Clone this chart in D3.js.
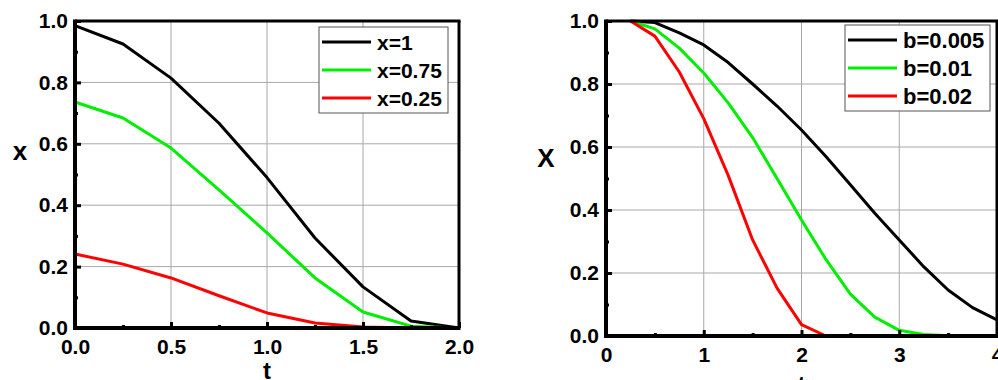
<!DOCTYPE html>
<html>
<head>
<meta charset="utf-8">
<script src="https://cdn.jsdelivr.net/npm/d3@7"></script>
<style>
  body { margin: 0; background: #fff; }
  text { font-family: Arial, "Liberation Sans", sans-serif; font-weight: bold; }
</style>
</head>
<body>
<div id="chart"></div>
<script>
// left panel data (t, x for three starting values)
var leftT = [0, 0.25, 0.5, 0.75, 1.0, 1.25, 1.5, 1.75, 2.0];
var leftX1 = [0.985, 0.925, 0.814, 0.667, 0.49, 0.293, 0.134, 0.023, 0];
var leftX075 = [0.736, 0.684, 0.586, 0.45, 0.31, 0.163, 0.052, 0.006, 0];
var leftX025 = [0.241, 0.208, 0.163, 0.105, 0.049, 0.016, 0.003, 0, 0];
var leftNames = ["x=1", "x=0.75", "x=0.25"];
var leftXTicks = [0, 0.5, 1.0, 1.5, 2.0];
var leftYTicks = [0, 0.2, 0.4, 0.6, 0.8, 1.0];

// right panel data (t, X for three b values)
var rightT = [0.25, 0.5, 0.75, 1.0, 1.25, 1.5, 1.75, 2.0, 2.25, 2.5, 2.75, 3.0, 3.25, 3.5, 3.75, 4.0];
var rightB005 = [1.0, 0.995, 0.962, 0.924, 0.868, 0.80, 0.73, 0.654, 0.57, 0.48, 0.39, 0.305, 0.22, 0.146, 0.09, 0.051];
var rightB01 = [1.0, 0.975, 0.914, 0.835, 0.74, 0.63, 0.50, 0.368, 0.243, 0.133, 0.06, 0.018, 0.005, 0.001, 0, 0];
var rightB02 = [1.0, 0.952, 0.838, 0.69, 0.51, 0.305, 0.152, 0.036, 0, 0, 0, 0, 0, 0, 0, 0];
var rightNames = ["b=0.005", "b=0.01", "b=0.02"];
var rightXTicks = [0, 1, 2, 3, 4];
var rightYTicks = [0, 0.2, 0.4, 0.6, 0.8, 1.0];

var colors = ["#000000", "#00ee00", "#ff0000"];

var W = 998, H = 380;
var svg = d3.select("#chart").append("svg")
    .attr("width", W)
    .attr("height", H);

function drawPanel(p) {
    var x = d3.scaleLinear().domain(p.xDomain).range([p.left, p.right]);
    var y = d3.scaleLinear().domain([0, 1]).range([p.bottom, p.top]);
    var g = svg.append("g");

    // grid
    g.selectAll(".gx").data(p.xTicks.slice(1, -1)).enter().append("line")
        .attr("x1", d => x(d)).attr("x2", d => x(d))
        .attr("y1", p.top).attr("y2", p.bottom)
        .attr("stroke", "#a8a8a8").attr("stroke-width", 1);
    g.selectAll(".gy").data(p.yTicks.slice(1, -1)).enter().append("line")
        .attr("x1", p.left).attr("x2", p.right)
        .attr("y1", d => y(d)).attr("y2", d => y(d))
        .attr("stroke", "#a8a8a8").attr("stroke-width", 1);

    // lines
    var line = d3.line().x(d => x(d[0])).y(d => y(d[1]));
    p.series.forEach(function(s, i) {
        g.append("path")
            .datum(p.t.map((t, j) => [t, s[j]]))
            .attr("d", line)
            .attr("fill", "none")
            .attr("stroke", colors[i])
            .attr("stroke-width", 3)
            .attr("stroke-linejoin", "round");
    });

    // axes (ticks pointing inward)
    var xAxis = g.append("g").attr("transform", "translate(0," + p.bottom + ")")
        .call(d3.axisBottom(x).tickValues(p.xTicks).tickSize(-6).tickPadding(11)
            .tickFormat(p.xFormat));
    var xMinor = g.append("g").attr("transform", "translate(0," + p.bottom + ")")
        .call(d3.axisBottom(x).tickValues(p.xMinor).tickSize(-3).tickFormat(""));
    var yAxis = g.append("g").attr("transform", "translate(" + p.left + ",0)")
        .call(d3.axisLeft(y).tickValues(p.yTicks).tickSize(-6).tickPadding(7)
            .tickFormat(d3.format(".1f")));
    var yMinor = g.append("g").attr("transform", "translate(" + p.left + ",0)")
        .call(d3.axisLeft(y).tickValues([0.1, 0.3, 0.5, 0.7, 0.9]).tickSize(-3).tickFormat(""));
    [xAxis, xMinor, yAxis, yMinor].forEach(function(a) {
        a.select(".domain").remove();
        a.selectAll(".tick line").attr("stroke", "#000").attr("stroke-width", 3);
        a.selectAll("text").attr("font-size", p.tickSize).attr("fill", "#000")
            .style("font-family", "Arial, 'Liberation Sans', sans-serif").style("font-weight", "bold");
    });
    xAxis.selectAll("text").attr("dy", "0.71em");

    // frame
    g.append("line").attr("x1", p.left).attr("x2", p.left).attr("y1", p.top - 1.5).attr("y2", p.bottom + 2)
        .attr("stroke", "#000").attr("stroke-width", 4);
    g.append("line").attr("x1", p.left - 2).attr("x2", p.right + 1.5).attr("y1", p.bottom).attr("y2", p.bottom)
        .attr("stroke", "#000").attr("stroke-width", 4);
    g.append("line").attr("x1", p.left).attr("x2", p.right + 1.5).attr("y1", p.top).attr("y2", p.top)
        .attr("stroke", "#000").attr("stroke-width", 3);
    g.append("line").attr("x1", p.right).attr("x2", p.right).attr("y1", p.top).attr("y2", p.bottom)
        .attr("stroke", "#000").attr("stroke-width", 3);

    // axis titles
    g.append("text").attr("x", p.yTitleX).attr("y", p.yTitleY)
        .attr("text-anchor", "middle").attr("font-size", p.yTitleSize)
        .text(p.yTitle);
    g.append("text").attr("x", (p.left + p.right) / 2).attr("y", p.xTitleY)
        .attr("text-anchor", "middle").attr("font-size", 24)
        .text("t");

    // legend
    var lg = g.append("g");
    lg.append("rect").attr("x", p.legend[0]).attr("y", p.legend[1])
        .attr("width", p.legend[2]).attr("height", 86)
        .attr("fill", "#fff").attr("stroke", "#555").attr("stroke-width", 1);
    p.names.forEach(function(n, i) {
        var yy = p.legend[1] + 15 + i * 28;
        lg.append("line").attr("x1", p.legend[0] + 3).attr("x2", p.legend[0] + 52)
            .attr("y1", yy).attr("y2", yy)
            .attr("stroke", colors[i]).attr("stroke-width", 3);
        lg.append("text").attr("x", p.legend[0] + 58).attr("y", yy + 7.5)
            .attr("font-size", p.legendSize).text(n);
    });
}

drawPanel({
    left: 75, right: 459, top: 21, bottom: 328,
    xDomain: [0, 2], xTicks: leftXTicks, xMinor: [0.25, 0.75, 1.25, 1.75],
    yTicks: leftYTicks, xFormat: d3.format(".1f"),
    t: leftT, series: [leftX1, leftX075, leftX025], names: leftNames,
    legend: [319, 27, 129], legendSize: 21, tickSize: 21,
    yTitle: "x", yTitleX: 20, yTitleY: 160, yTitleSize: 26, xTitleY: 379
});

drawPanel({
    left: 606, right: 997, top: 21, bottom: 336,
    xDomain: [0, 4], xTicks: rightXTicks, xMinor: [0.5, 1.5, 2.5, 3.5],
    yTicks: rightYTicks, xFormat: d3.format("d"),
    t: rightT, series: [rightB005, rightB01, rightB02], names: rightNames,
    legend: [845, 25, 145], legendSize: 22, tickSize: 21,
    yTitle: "X", yTitleX: 546, yTitleY: 167, yTitleSize: 26, xTitleY: 393
});
</script>
</body>
</html>
